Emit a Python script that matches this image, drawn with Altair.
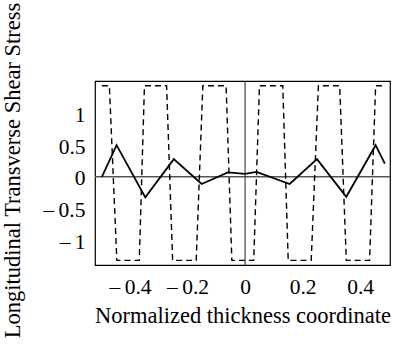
import altair as alt
import pandas as pd

# Dashed curve (layer-wise stress from constitutive law)
dash_x = [-0.498, -0.472, -0.446, -0.368, -0.350, -0.273, -0.252, -0.170,
          -0.147, -0.066, -0.046, 0.030, 0.050, 0.131, 0.150, 0.230,
          0.255, 0.329, 0.352, 0.433, 0.454, 0.478]
dash_y = [1.44, 1.44, -1.32, -1.32, 1.44, 1.44, -1.32, -1.32,
          1.44, 1.44, -1.32, -1.32, 1.44, 1.44, -1.32, -1.32,
          1.44, 1.44, -1.32, -1.32, 1.44, 1.44]

# Solid curve (equilibrium-based stress)
solid_x = [-0.498, -0.447, -0.347, -0.248, -0.151, -0.060, 0.000, 0.040,
           0.155, 0.250, 0.352, 0.454, 0.486]
solid_y = [0.0, 0.50, -0.325, 0.28, -0.113, 0.07, 0.048, 0.078,
           -0.113, 0.28, -0.315, 0.50, 0.21]

x_ticks = [-0.4, -0.2, 0, 0.2, 0.4]
y_ticks = [-1, -0.5, 0, 0.5, 1]

dash_df = pd.DataFrame({"x": dash_x, "y": dash_y, "o": list(range(len(dash_x)))})
solid_df = pd.DataFrame({"x": solid_x, "y": solid_y, "o": list(range(len(solid_x)))})
zero_df = pd.DataFrame({"v": [0]})

FONT = "Liberation Serif"

lab_expr = "datum.value < 0 ? '\u2013\u2009' + format(-datum.value, '') : format(datum.value, '')"

xscale = alt.Scale(domain=[-0.522, 0.504], nice=False, zero=False)
yscale = alt.Scale(domain=[-1.393, 1.514], nice=False, zero=False)

xaxis = alt.Axis(values=x_ticks, title="Normalized thickness coordinate",
                 grid=False, domain=False, ticks=False, labelPadding=11,
                 labelFont=FONT, labelFontSize=21.5, labelColor="black",
                 labelExpr=lab_expr, labelBaseline="top",
                 titleFont=FONT, titleFontSize=22.5, titleFontWeight="normal",
                 titleColor="black", titleY=57, titleBaseline="alphabetic")
yaxis = alt.Axis(values=y_ticks, title="Longitudinal Transverse Shear Stress",
                 grid=False, domain=False, ticks=False, labelPadding=10,
                 labelFont=FONT, labelFontSize=21.5, labelColor="black",
                 labelExpr=lab_expr, labelOffset=2,
                 titleFont=FONT, titleFontSize=22.5, titleFontWeight="normal",
                 titleColor="black", titleX=-76, titleY=89,
                 titleBaseline="alphabetic", titleAlign="center", titleAngle=270)

hzero = alt.Chart(zero_df).mark_rule(color="#555555", strokeWidth=1.5).encode(
    y=alt.Y("v:Q", scale=yscale, axis=yaxis))
vzero = alt.Chart(zero_df).mark_rule(color="#222222", strokeWidth=1).encode(
    x=alt.X("v:Q", scale=xscale, axis=xaxis))

dashed = alt.Chart(dash_df).mark_line(color="black", strokeWidth=1.4,
                                      strokeDash=[6, 4]).encode(
    x=alt.X("x:Q", scale=xscale, axis=xaxis),
    y=alt.Y("y:Q", scale=yscale, axis=yaxis),
    order="o:Q")

solid = alt.Chart(solid_df).mark_line(color="black", strokeWidth=1.8).encode(
    x=alt.X("x:Q", scale=xscale, axis=xaxis),
    y=alt.Y("y:Q", scale=yscale, axis=yaxis),
    order="o:Q")

chart = alt.layer(hzero, vzero, dashed, solid).properties(
    width=295, height=184,
    autosize=alt.AutoSizeParams(type="none"),
    padding={"left": 95, "top": 81, "right": 5, "bottom": 81},
    background="white",
).configure_view(stroke="black", strokeWidth=1.2)

chart.save("out.html", embed_options={"renderer": "svg", "actions": False})
